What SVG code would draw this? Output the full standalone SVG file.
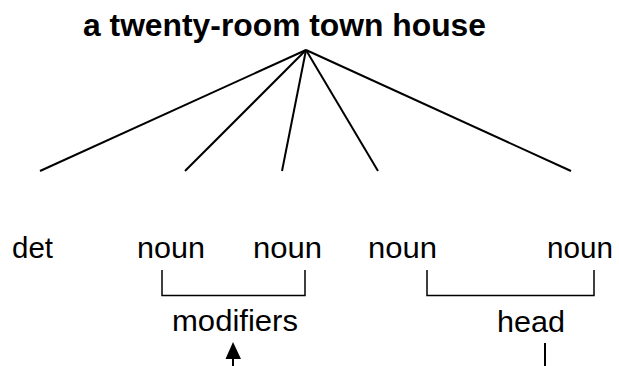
<svg xmlns="http://www.w3.org/2000/svg" width="619" height="366" viewBox="0 0 619 366">
<style>
.t{font-family:"Liberation Sans",Arial,sans-serif;fill:#000}
.lbl{font-size:30px}
.ttl{font-size:31px;font-weight:bold}
.ln{stroke:#000;stroke-width:2;fill:none}
.br{stroke:#000;stroke-width:1.5;fill:none}
</style>
<rect width="619" height="366" fill="#fff"/>
<g id="title"><text class="t ttl" x="83" y="36" textLength="403" lengthAdjust="spacingAndGlyphs">a twenty-room town house</text></g>
<g id="connectors">
<line class="ln" x1="306" y1="50" x2="40" y2="171"/>
<line class="ln" x1="306" y1="50" x2="185" y2="171"/>
<line class="ln" x1="306" y1="50" x2="282" y2="171"/>
<line class="ln" x1="306" y1="50" x2="378" y2="171"/>
<line class="ln" x1="306" y1="50" x2="571" y2="171"/>
</g>
<g id="det"><text class="t lbl" x="12" y="258" textLength="41" lengthAdjust="spacingAndGlyphs">det</text></g>
<g id="noun1"><text class="t lbl" x="137" y="258" textLength="68" lengthAdjust="spacingAndGlyphs">noun</text></g>
<g id="noun2"><text class="t lbl" x="253" y="258" textLength="69" lengthAdjust="spacingAndGlyphs">noun</text></g>
<g id="noun3"><text class="t lbl" x="368" y="258" textLength="69" lengthAdjust="spacingAndGlyphs">noun</text></g>
<g id="noun4"><text class="t lbl" x="547" y="258" textLength="66" lengthAdjust="spacingAndGlyphs">noun</text></g>
<g id="modifiers">
<polyline class="br" points="162,270 162,295.5 305,295.5 305,270"/>
<text class="t lbl" x="172" y="331" textLength="126" lengthAdjust="spacingAndGlyphs">modifiers</text>
<polygon points="233,342 225.5,359 241,359" fill="#000"/>
<line class="ln" x1="233" y1="355" x2="233" y2="366"/>
</g>
<g id="head">
<polyline class="br" points="427,270 427,295.5 594,295.5 594,270"/>
<text class="t lbl" x="497" y="332" textLength="68" lengthAdjust="spacingAndGlyphs">head</text>
<line class="ln" x1="545" y1="343" x2="545" y2="366"/>
</g>
</svg>
